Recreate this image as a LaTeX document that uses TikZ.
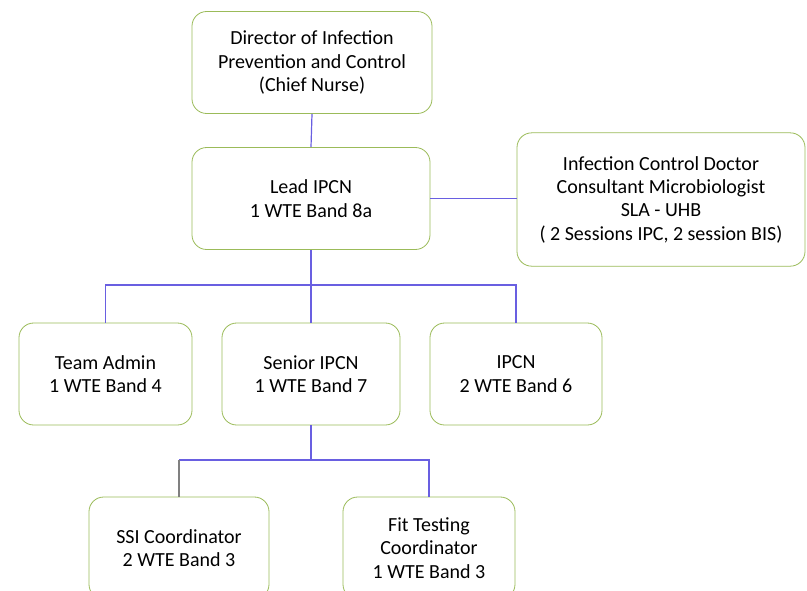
\documentclass[tikz,border=0pt]{standalone}
\usepackage{fontspec}
\setmainfont{Carlito}
\usetikzlibrary{positioning}
\definecolor{boxgreen}{RGB}{155,187,89}
\definecolor{linkblue}{RGB}{105,95,225}

\begin{document}
\begin{tikzpicture}[
    x=0.75pt, y=-0.75pt,
    every text node part/.style={align=center},
    post/.style={
      % The shape:
      rectangle,
      rounded corners=11pt,
      % The size:
      minimum width=#1,
      minimum height=76.5pt,
      % The border:
      line width=0.6pt,
      draw=boxgreen,
      fill=white,
      % Font
      font=\fontsize{15}{17.5}\selectfont,
    },
    post/.default=130pt,
    link/.style={line width=0.9pt, draw=linkblue},
  ]
    \clip (0,0) rectangle (807,590);
    \fill[white] (0,0) rectangle (807,590);

    \node[post=180pt] (director) at (312,62.5) {Director of Infection\\ Prevention and Control\\ (Chief Nurse)};
    \node[post=178.5pt] (lead) at (311,198.5) {Lead IPCN\\ 1 WTE Band 8a};
    \node[post=216pt, minimum height=100pt] (doctor) at (661,199.5)
          {Infection Control Doctor\\ Consultant Microbiologist\\ SLA - UHB\\ ( 2 Sessions IPC, 2 session BIS)};

    \node[post=129.75pt] (admin) at (105.5,374) {Team Admin\\ 1 WTE Band 4};
    \node[post=133.5pt] (senior) at (311,374) {Senior IPCN\\ 1 WTE Band 7};
    \node[post=129pt] (ipcn) at (516,374) {IPCN\\ 2 WTE Band 6};

    \node[post=135pt] (ssi) at (179,548) {SSI Coordinator\\ 2 WTE Band 3};
    \node[post=129pt] (fit) at (429,548) {Fit Testing\\ Coordinator\\ 1 WTE Band 3};

    \coordinate (teamsplit) at (311,285);
    \coordinate (seniorsplit) at (311,460);

    \draw[link] (director.south) -- (lead.north);
    \draw[link] (lead.east) -- (lead.east -| doctor.west);
    \draw[link] (lead.south) -- (teamsplit) -- (senior.north);
    \draw[link] (admin.north) -- (admin.north |- teamsplit) -- (ipcn.north |- teamsplit) -- (ipcn.north);
    \draw[link] (senior.south) -- (seniorsplit);
    \draw[link] (ssi.north |- seniorsplit) -- (fit.north |- seniorsplit) -- (fit.north);
    \draw[line width=0.9pt, gray] (ssi.north) -- (ssi.north |- seniorsplit);
  \end{tikzpicture}
\end{document}
